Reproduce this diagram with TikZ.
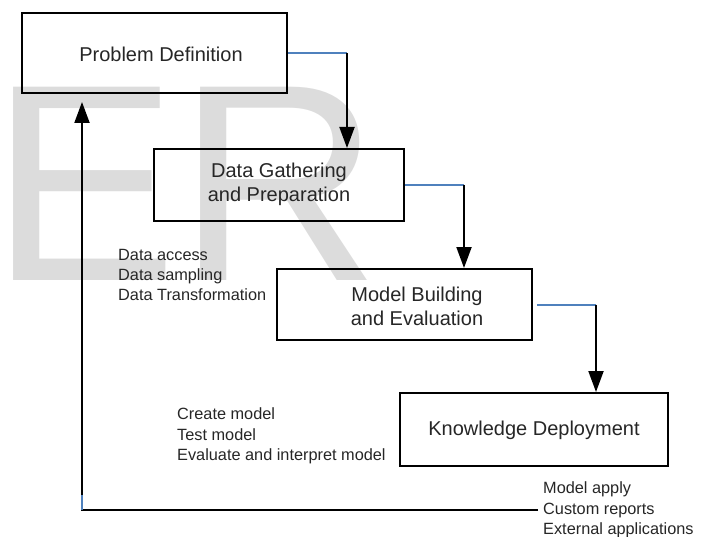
\documentclass[tikz,border=0pt]{standalone}
\usepackage{fontspec}
\setmainfont{Liberation Sans}
\usetikzlibrary{arrows.meta}
\newlength{\du}
\setlength{\du}{1pt}
\definecolor{dialinecolor}{rgb}{0.000000, 0.000000, 0.000000}
\definecolor{dialinkcolor}{rgb}{0.310000, 0.506000, 0.741000}
\definecolor{diatextcolor}{rgb}{0.150000, 0.150000, 0.150000}
\definecolor{diamarkcolor}{rgb}{0.862745, 0.862745, 0.862745}
\tikzset{
  stagebox/.style={draw=dialinecolor, line width=2\du, inner sep=0pt},
  stagetext/.style={text=diatextcolor, align=center, inner sep=0pt,
    font=\fontsize{20}{24}\selectfont},
  notetext/.style={text=diatextcolor, align=left, inner sep=0pt, anchor=west,
    font=\fontsize{16.3}{20.4}\selectfont},
  link/.style={draw=dialinkcolor, line width=2\du},
  flow/.style={draw=dialinecolor, line width=2\du,
    -{Triangle[length=21pt,width=15pt]}}
}
\begin{document}
\begin{tikzpicture}[yscale=-1]
\useasboundingbox (0\du,0\du) rectangle (708\du,537\du);
% watermark behind everything
\node[anchor=base west, inner sep=0pt, text=diamarkcolor,
  font=\fontsize{281}{281}\selectfont] (mark) at (-10\du,280\du) {ER};
% stages
\node[stagebox, minimum width=265\du, minimum height=80\du] (pd) at (154.5\du,53\du) {};
\node[stagebox, minimum width=250\du, minimum height=72\du] (dg) at (279\du,185\du) {};
\node[stagebox, minimum width=255\du, minimum height=71\du] (mb) at (404.5\du,304.5\du) {};
\node[stagebox, minimum width=268\du, minimum height=73\du] (kd) at (534\du,429.5\du) {};
% setfont left to latex
\node[stagetext] (pdlabel) at (161\du,54\du) {Problem Definition};
\node[stagetext] (dglabel) at (279\du,184\du) {Data Gathering\\and Preparation};
\node[stagetext] (mblabel) at (417\du,306\du) {Model Building\\and Evaluation};
\node[stagetext] (kdlabel) at (534\du,430\du) {Knowledge Deployment};
\node[notetext] (dgnotes) at (118\du,275\du) {Data access\\Data sampling\\Data Transformation};
\node[notetext] (mbnotes) at (177\du,436\du) {Create model\\Test model\\Evaluate and interpret model};
\node[notetext, inner xsep=5pt] (kdnotes) at (538\du,510\du) {Model apply\\Custom reports\\External applications};
% connectors
\draw[link] (pd.east) -- ++(59\du,0\du) coordinate (c1);
\draw[flow] (c1) -- (c1 |- dg.north);
\draw[link] (dg.east) -- ++(59\du,0\du) coordinate (c2);
\draw[flow] (c2) -- (c2 |- mb.north);
\draw[link] ([xshift=4pt]mb.east) -- ++(59\du,0\du) coordinate (c3);
\draw[flow] (c3) -- (c3 |- kd.north);
% feedback
\coordinate (fb) at (82\du,511\du);
\draw[flow, shorten >=8pt] (kdnotes.west) -- (kdnotes.west -| fb) -- (fb |- pd.south);
\draw[link] (kdnotes.west -| fb) -- ++(0\du,-15\du);
\end{tikzpicture}
\end{document}
